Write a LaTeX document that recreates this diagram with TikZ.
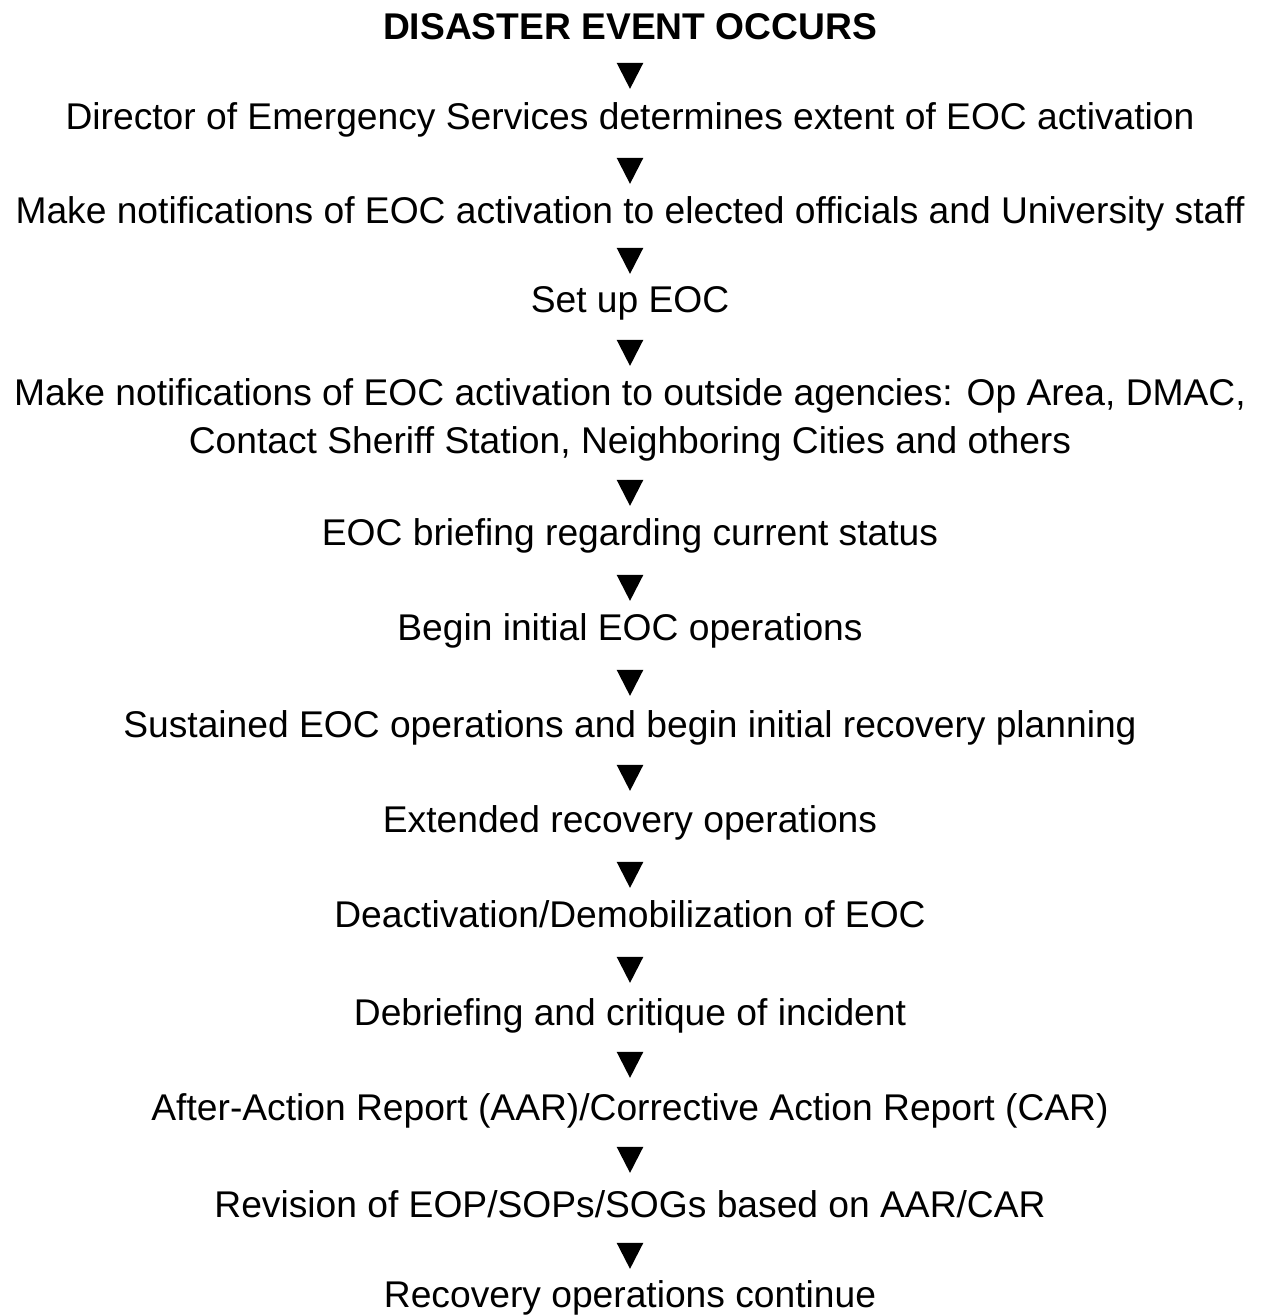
\documentclass[tikz,border=0pt]{standalone}
\usepackage{fontspec}
\setmainfont{Liberation Sans}
\usetikzlibrary{shapes.geometric}
\tikzset{
  steptext/.style={anchor=base, inner sep=0pt, align=center,
    font=\fontsize{37.2pt}{48pt}\selectfont, text=black},
  titletext/.style={steptext, font=\fontsize{37.2pt}{48pt}\selectfont\bfseries},
  tri/.style={isosceles triangle, isosceles triangle stretches,
    shape border rotate=270, minimum width=26.7pt, minimum height=26pt,
    inner sep=0pt, fill=black, draw=none}
}
\begin{document}
\begin{tikzpicture}[x=1pt,y=-1pt]
\useasboundingbox[fill=white] (0,0) rectangle (1260,1316);
\node[titletext] (t0) at (630,40) {DISASTER EVENT OCCURS};
\node[tri] (a1) at (630,71) {};
\node[steptext] (t1) at (630,130) {Director of Emergency Services determines extent of EOC activation};
\node[tri] (a2) at (630,166) {};
\node[steptext] (t2) at (630,223) {Make notifications of EOC activation to elected officials and University staff};
\node[tri] (a3) at (630,256) {};
\node[steptext] (t3) at (630,312) {Set up EOC};
\node[tri] (a4) at (630,348) {};
% base anchor of a two-line node is the baseline of its last line
\node[steptext] (t4) at (630,453) {Make notifications of EOC activation to outside agencies: Op Area, DMAC,\\Contact Sheriff Station, Neighboring Cities and others};
\node[tri] (a5) at (630,488) {};
\node[steptext] (t5) at (630,545) {EOC briefing regarding current status};
\node[tri] (a6) at (630,583) {};
\node[steptext] (t6) at (630,640) {Begin initial EOC operations};
\node[tri] (a7) at (630,678) {};
\node[steptext] (t7) at (630,737) {Sustained EOC operations and begin initial recovery planning};
\node[tri] (a8) at (630,773) {};
\node[steptext] (t8) at (630,832) {Extended recovery operations};
\node[tri] (a9) at (630,870) {};
\node[steptext] (t9) at (630,927) {Deactivation/Demobilization of EOC};
\node[tri] (a10) at (630,965) {};
\node[steptext] (t10) at (630,1025) {Debriefing and critique of incident};
\node[tri] (a11) at (630,1060) {};
\node[steptext] (t11) at (630,1120) {After-Action Report (AAR)/Corrective Action Report (CAR)};
\node[tri] (a12) at (630,1155) {};
\node[steptext] (t12) at (630,1217) {Revision of EOP/SOPs/SOGs based on AAR/CAR};
\node[tri] (a13) at (630,1251) {};
\node[steptext] (t13) at (630,1307.5) {Recovery operations continue};
\end{tikzpicture}
\end{document}
